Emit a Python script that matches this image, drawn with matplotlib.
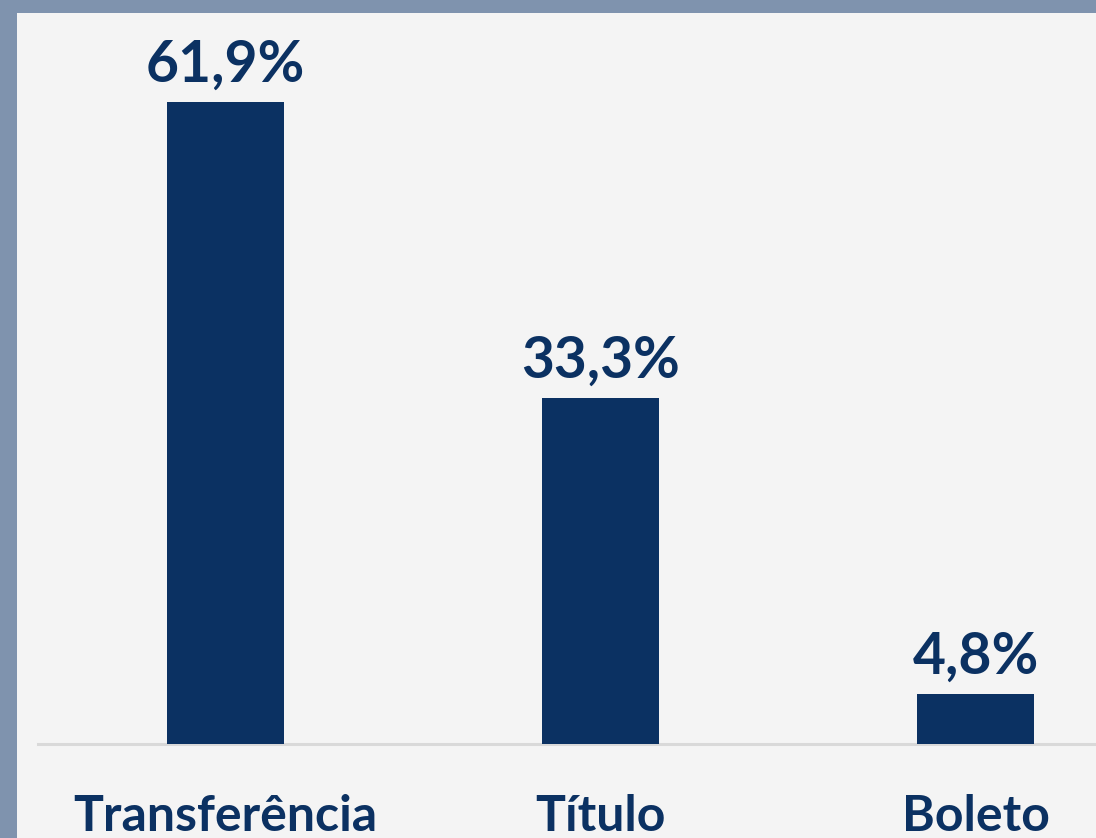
import matplotlib
matplotlib.use("Agg")
import matplotlib.pyplot as plt
from matplotlib.patches import Rectangle

# shares of payment method (%)
categories = ["Transferência", "Título", "Boleto"]
shares = [61.9, 33.3, 4.8]
value_labels = ["61,9%", "33,3%", "4,8%"]

NAVY = "#0b3162"
BORDER = "#7f93ae"
PANEL = "#f4f4f4"

W, H = 1096, 838
fig = plt.figure(figsize=(W / 100, H / 100), dpi=100, facecolor=BORDER)
fig.patches.append(Rectangle((17 / W, 0), 1 - 17 / W, 1 - 13 / H,
                             transform=fig.transFigure, facecolor=PANEL,
                             edgecolor="none", zorder=-10))

ax = fig.add_axes([38 / W, (H - 743.5) / H, 1 - 38 / W, (743.5 - 13) / H])
ax.set_facecolor("none")

x = range(len(categories))
ax.bar(x, shares, width=0.312, color=NAVY, zorder=2)

px_per_unit = 10.37
ax.set_xlim(-0.5, 2.321)
ax.set_ylim(0, (743.5 - 13) / px_per_unit)

for xi, v, lab in zip(x, shares, value_labels):
    ax.annotate(lab, (xi, v), xytext=(0, 20), textcoords="offset pixels",
                ha="center", va="baseline", fontsize=41, fontweight="bold",
                family="Lato", color=NAVY)

ax.set_xticks(list(x), categories)
ax.tick_params(axis="x", length=0, pad=36, labelsize=36, labelcolor=NAVY)
for t in ax.get_xticklabels():
    t.set_fontfamily("Lato")
    t.set_fontweight("bold")
ax.set_yticks([])

for s in ["left", "right", "top"]:
    ax.spines[s].set_visible(False)
ax.spines["bottom"].set_color("#d9d9d9")
ax.spines["bottom"].set_linewidth(2.2)
ax.spines["bottom"].set_zorder(1)

fig.savefig("out.png", dpi=100, facecolor=BORDER)
